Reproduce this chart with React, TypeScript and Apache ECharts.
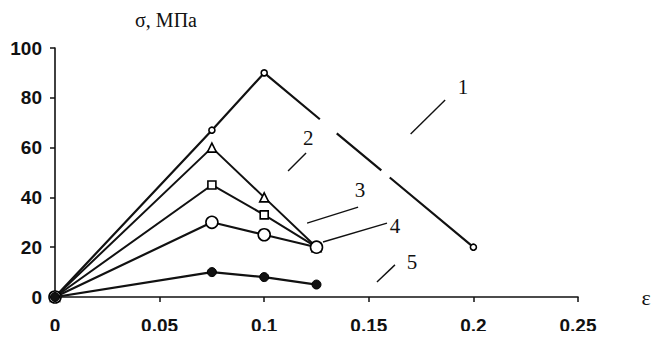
import React, { useEffect, useRef } from "react";
import * as echarts from "echarts";

const xTickLabels = ["0", "0,05", "0,1", "0,15", "0,2", "0,25"];
const s1X = [0, 0.075, 0.1, 0.2];
const s1Y = [0, 67, 90, 20];
const sX = [0, 0.075, 0.1, 0.125];
const s2Y = [0, 60, 40, 20];
const s3Y = [0, 45, 33, 20];
const s4Y = [0, 30, 25, 20];
const s5Y = [0, 10, 8, 5];

// curve labels: text anchor and leader line (data coords)
const labelNames = ["1", "2", "3", "4", "5"];
const labelText: [number, number][] = [
  [0.195, 84.3],
  [0.121, 63.9],
  [0.1458, 43.0],
  [0.1625, 28.5],
  [0.1707, 14.1],
];
const labelLineFrom: [number, number][] = [
  [0.17, 65.5],
  [0.1114, 50.6],
  [0.1205, 29.7],
  [0.1281, 22.1],
  [0.1539, 6.0],
];
const labelLineTo: [number, number][] = [
  [0.1865, 79.1],
  [0.12, 57.8],
  [0.1449, 36.1],
  [0.1587, 29.7],
  [0.1625, 12.9],
];

const zip = (xs: number[], ys: number[]) => xs.map((x, i) => [x, ys[i]]);

export default function App() {
  const ref = useRef<HTMLDivElement>(null);
  useEffect(() => {
    if (!ref.current) return;
    const chart = echarts.init(ref.current, undefined, { renderer: "svg" });
    const white = { color: "#fff", borderColor: "#000", borderWidth: 1.6 };
    const option: any = {
      animation: false,
      backgroundColor: "#fff",
      grid: { left: 55, right: 84, top: 48, bottom: 42 },
      xAxis: {
        type: "value",
        min: 0,
        max: 0.25,
        interval: 0.05,
        splitLine: { show: false },
        axisLine: { lineStyle: { color: "#111", width: 1.6 } },
        axisTick: { show: true, length: 5, inside: false, lineStyle: { color: "#111", width: 1.5 } },
        axisLabel: {
          margin: 19,
          color: "#111",
          fontFamily: "Liberation Sans",
          fontWeight: "bold",
          fontSize: 19,
          formatter: (v: number) => xTickLabels[Math.round(v / 0.05)] ?? "",
        },
      },
      yAxis: {
        type: "value",
        min: 0,
        max: 100,
        interval: 20,
        splitLine: { show: false },
        axisLine: { show: true, lineStyle: { color: "#111", width: 1.6 } },
        axisTick: { show: true, length: 5, lineStyle: { color: "#111", width: 1.5 } },
        axisLabel: {
          margin: 13,
          color: "#111",
          fontFamily: "Liberation Sans",
          fontWeight: "bold",
          fontSize: 19,
        },
      },
      series: [
        {
          name: "1",
          type: "line",
          data: zip(s1X, s1Y),
          symbol: "circle",
          symbolSize: 6,
          itemStyle: white,
          lineStyle: { color: "#111", width: 2.2, type: [379, 22, 58, 11, 1000] },
          z: 3,
        },
        {
          name: "2",
          type: "line",
          data: zip(sX, s2Y),
          symbol: "triangle",
          symbolSize: 9,
          itemStyle: white,
          lineStyle: { color: "#111", width: 2 },
          z: 4,
        },
        {
          name: "3",
          type: "line",
          data: zip(sX, s3Y),
          symbol: "rect",
          symbolSize: 8,
          itemStyle: white,
          lineStyle: { color: "#111", width: 2 },
          z: 5,
        },
        {
          name: "4",
          type: "line",
          data: zip(sX, s4Y),
          symbol: "circle",
          symbolSize: 12,
          itemStyle: white,
          lineStyle: { color: "#111", width: 2.2 },
          z: 6,
        },
        {
          name: "5",
          type: "line",
          data: zip(sX, s5Y),
          symbol: "circle",
          symbolSize: 9,
          itemStyle: { color: "#111", borderColor: "#000", borderWidth: 1 },
          lineStyle: { color: "#111", width: 2.2 },
          z: 7,
        },
      ],
    };
    chart.setOption(option);

    const toPx = (p: [number, number]) => chart.convertToPixel({ gridIndex: 0 }, p) as number[];
    const graphics: any[] = [];
    labelNames.forEach((name, i) => {
      const a = toPx(labelLineFrom[i]);
      const b = toPx(labelLineTo[i]);
      const t = toPx(labelText[i]);
      graphics.push({
        type: "line",
        shape: { x1: a[0], y1: a[1], x2: b[0], y2: b[1] },
        style: { stroke: "#111", lineWidth: 1.4 },
      });
      graphics.push({
        type: "text",
        x: t[0],
        y: t[1],
        style: {
          text: name,
          fill: "#111",
          font: "21px 'Liberation Serif'",
          textAlign: "center",
          textVerticalAlign: "middle",
        },
      });
    });
    graphics.push({
      type: "text",
      x: 166,
      y: 20,
      style: {
        text: "σ, МПа",
        fill: "#111",
        font: "20px 'Liberation Serif'",
        textAlign: "center",
        textVerticalAlign: "middle",
      },
    });
    graphics.push({
      type: "text",
      x: 646,
      y: 297,
      style: {
        text: "ε",
        fill: "#111",
        font: "22px 'Liberation Serif'",
        textAlign: "center",
        textVerticalAlign: "middle",
      },
    });
    chart.setOption({ graphic: graphics });

    return () => chart.dispose();
  }, []);
  return <div ref={ref} style={{ width: 662, height: 339, margin: -8 }} />;
}
